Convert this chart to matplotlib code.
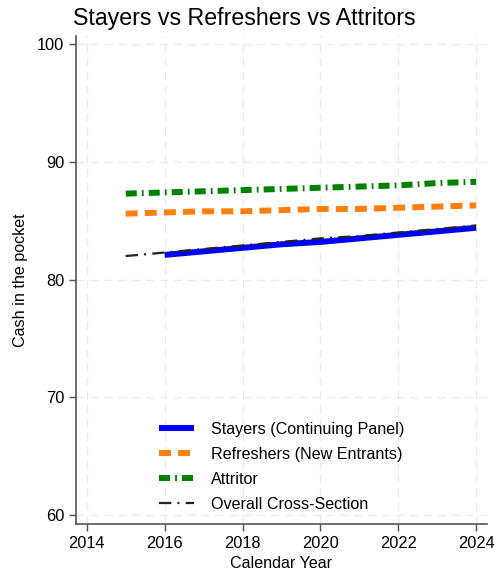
"""Stayers vs refreshers vs attritors, cash in the pocket by year."""
import matplotlib
matplotlib.use("Agg")
import matplotlib.pyplot as plt

plt.rcParams['font.family'] = ['Liberation Sans', 'DejaVu Sans']

years_stay = [2016, 2017, 2018, 2019, 2020, 2021, 2022, 2023, 2024]
stayers = [82.1, 82.4, 82.7, 83.0, 83.2, 83.5, 83.8, 84.1, 84.4]

years_all = [2015, 2016, 2017, 2018, 2019, 2020, 2021, 2022, 2023, 2024]
refreshers = [85.6, 85.7, 85.8, 85.8, 85.9, 86.0, 86.0, 86.1, 86.2, 86.3]
attritors = [87.3, 87.4, 87.5, 87.6, 87.7, 87.8, 87.9, 88.0, 88.2, 88.3]
overall = [82.0, 82.3, 82.6, 82.9, 83.2, 83.5, 83.7, 84.0, 84.3, 84.6]

labels = ["Stayers (Continuing Panel)", "Refreshers (New Entrants)",
          "Attritor", "Overall Cross-Section"]

fig = plt.figure(figsize=(4.96, 5.73), dpi=100)
ax = fig.add_axes([0.153, 0.0855, 0.829, 0.852])

ax.plot(years_stay, stayers, color='#0000ff', lw=4.3, solid_capstyle='butt',
        label=labels[0], zorder=3)
ax.plot(years_all, refreshers, color='#ff7f0e', lw=4.3,
        dashes=(2.0, 1.2), label=labels[1], zorder=3)
ax.plot(years_all, attritors, color='#008000', lw=4.3,
        dashes=(1.85, 0.85, 0.3, 0.85), label=labels[2], zorder=3)
ax.plot(years_all, overall, color='#222222', lw=1.6,
        dashes=(5.5, 2.8, 0.9, 2.8), label=labels[3], zorder=4)

ax.set_xlim(2013.72, 2024.28)
ax.set_ylim(59.25, 100.7)
ax.set_xticks([2014, 2016, 2018, 2020, 2022, 2024])
ax.set_yticks([60, 70, 80, 90, 100])
ax.tick_params(labelsize=11.8, color='#555555', length=5, width=1)

ax.grid(True, color='#ebebeb', linestyle=(0, (6, 4)), lw=1)
ax.set_axisbelow(True)
for s in ['top', 'right']:
    ax.spines[s].set_visible(False)
for s in ['left', 'bottom']:
    ax.spines[s].set_color('#555555')
    ax.spines[s].set_linewidth(1.2)

ax.set_xlabel("Calendar Year", fontsize=11.6, labelpad=4)
ax.set_ylabel("Cash in the pocket", fontsize=11.6, labelpad=6)
fig.text(0.147, 0.968, "Stayers vs Refreshers vs Attritors", fontsize=16.7,
         ha='left', va='center')

ax.legend(loc='lower center', frameon=False, fontsize=11.6, handlelength=2.2,
          handletextpad=1.0, bbox_to_anchor=(0.5, -0.005), labelspacing=0.62)

fig.savefig("out.png", dpi=100)
